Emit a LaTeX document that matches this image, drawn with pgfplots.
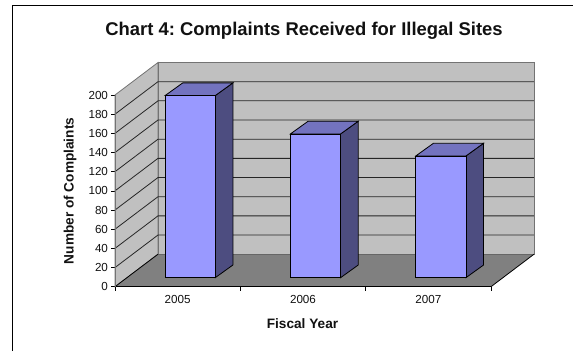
\documentclass[border=0pt]{standalone}
\usepackage{pgfplots}
\pgfplotsset{compat=1.18}
\usepackage{fontspec}
\setmainfont{Liberation Sans}
\definecolor{wallc}{HTML}{C0C0C0}
\definecolor{floorc}{HTML}{808080}
\definecolor{barfront}{HTML}{9999FF}
\definecolor{bartop}{HTML}{7373BF}
\definecolor{barside}{HTML}{4D4D80}
\definecolor{txt}{HTML}{111111}
\pgfplotsset{
  chartbase/.style={
    anchor=origin, x=125.33bp, y=0.9585bp,
    xmin=0, xmax=3, ymin=0, ymax=200,
    clip=false, scale only axis,
    /pgf/number format/assume math mode=true,
  },
  wall/.style={fill=wallc, draw=gray!90!black, line width=0.8pt},
  grid line/.style={draw=black!85, line width=0.8pt},
}
\frenchspacing
\begin{document}
\begin{tikzpicture}[x=1bp,y=1bp]
\useasboundingbox (0,0) rectangle (573,351);
\draw[black, line width=0.9pt] (12.5,0) -- (12.5,345.7) -- (573,345.7);
\node[font=\bfseries\fontsize{18.5}{20}\selectfont, text=txt] at (304,320.5) {Chart 4: Complaints Received for Illegal Sites};
\node[font=\bfseries\fontsize{13.7}{15}\selectfont, text=txt] at (302.5,27) {Fiscal Year};
\node[font=\bfseries\fontsize{13.7}{15}\selectfont, text=txt, rotate=90] at (70,160) {Number of Complaints};

% Frame of the plot: walls, floor and gridlines in value coordinates,
% the depth being 0.343 categories across and 33.9 complaints up.
\begin{axis}[chartbase, at={(115bp,64.3bp)},
  axis line style={draw=none},
  axis x line=bottom, axis y line=left,
  xtick={0,1,2,3}, xticklabels={},
  extra x ticks={0.5,1.5,2.5},
  extra x tick labels={2005,2006,2007},
  extra x tick style={major tick length=0pt, tick style={draw=none}},
  ytick={0,20,...,200},
  tick style={draw=black, line width=0.7pt},
  major tick length=4bp,
  tick align=outside,
  ticklabel style={font=\fontsize{11.7}{13}\selectfont, text=txt},
  xticklabel style={yshift=-5bp},
  yticklabel style={xshift=0.5bp},
]
\addplot[wall] coordinates {(0,0)(0.343,33.9)(0.343,233.9)(0,200)} -- cycle;
\addplot[wall] coordinates {(0.343,33.9)(3.343,33.9)(3.343,233.9)(0.343,233.9)} -- cycle;
\addplot[fill=floorc, draw=none] coordinates {(0,0)(0.343,33.9)(3.343,33.9)(3,0)} -- cycle;
\addplot[draw=floorc!80!black, line width=0.8pt] coordinates {(0.343,33.9)(3.343,33.9)};
\addplot[grid line] coordinates {(0,20)(0.343,53.9)(3.343,53.9)};
\addplot[grid line] coordinates {(0,40)(0.343,73.9)(3.343,73.9)};
\addplot[grid line] coordinates {(0,60)(0.343,93.9)(3.343,93.9)};
\addplot[grid line] coordinates {(0,80)(0.343,113.9)(3.343,113.9)};
\addplot[grid line] coordinates {(0,100)(0.343,133.9)(3.343,133.9)};
\addplot[grid line] coordinates {(0,120)(0.343,153.9)(3.343,153.9)};
\addplot[grid line] coordinates {(0,140)(0.343,173.9)(3.343,173.9)};
\addplot[grid line] coordinates {(0,160)(0.343,193.9)(3.343,193.9)};
\addplot[grid line] coordinates {(0,180)(0.343,213.9)(3.343,213.9)};
\addplot[black, line width=0.8pt] coordinates {(0,0)(3,0)};
\addplot[black, line width=0.8pt] coordinates {(0,0)(0.343,33.9)};
\addplot[black, line width=0.8pt] coordinates {(3,0)(3.343,33.9)};
\addplot[gray!90!black, line width=0.8pt] coordinates {(0,0)(0,200)};
\end{axis}

% Bars, on a plane set a little way into the depth of the floor.
\begin{axis}[chartbase, at={(127.5bp,73.3bp)}, hide axis]
\pgfplotsset{every axis plot/.append style={draw=black, line width=0.8pt}}
\addplot[fill=barside] coordinates {(0.7,0)(0.841,13.25)(0.841,203.25)(0.7,190)} -- cycle;
\addplot[fill=bartop]  coordinates {(0.3,190)(0.441,203.25)(0.841,203.25)(0.7,190)} -- cycle;
\addplot[fill=barfront] coordinates {(0.3,0)(0.7,0)(0.7,190)(0.3,190)} -- cycle;
\addplot[fill=barside] coordinates {(1.7,0)(1.841,13.25)(1.841,163.25)(1.7,150)} -- cycle;
\addplot[fill=bartop]  coordinates {(1.3,150)(1.441,163.25)(1.841,163.25)(1.7,150)} -- cycle;
\addplot[fill=barfront] coordinates {(1.3,0)(1.7,0)(1.7,150)(1.3,150)} -- cycle;
\addplot[fill=barside] coordinates {(2.7,0)(2.841,13.25)(2.841,140.25)(2.7,127)} -- cycle;
\addplot[fill=bartop]  coordinates {(2.3,127)(2.441,140.25)(2.841,140.25)(2.7,127)} -- cycle;
\addplot[fill=barfront] coordinates {(2.3,0)(2.7,0)(2.7,127)(2.3,127)} -- cycle;
\end{axis}
\end{tikzpicture}
\end{document}
